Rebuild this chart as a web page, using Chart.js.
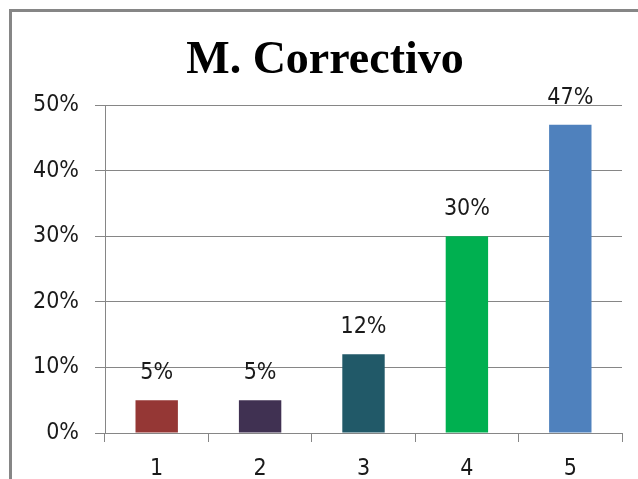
<!DOCTYPE html>
<html>
<head>
<meta charset="utf-8">
<script src="https://cdn.jsdelivr.net/npm/chart.js@4.4.0/dist/chart.umd.min.js"></script>
<style>
  html, body { margin: 0; padding: 0; background: #fff; overflow: hidden; }
  #frame {
    position: absolute; left: 9px; top: 9px;
    width: 700px; height: 520px;
    border-left: 3px solid #868686; border-top: 3px solid #868686;
    background: #fff;
  }
  #chart { display: block; }
</style>
</head>
<body>
<div id="frame"><canvas id="chart" width="626" height="467"></canvas></div>
<script>
// categories and percentages per category
var categories = ['1', '2', '3', '4', '5'];
var percents = [5, 5, 12, 30, 47];
var barColors = ['#953735', '#403152', '#215968', '#00B050', '#4F81BD'];
var yTicks = [0, 10, 20, 30, 40, 50];

var labelFont = { family: "'DejaVu Sans Condensed', 'DejaVu Sans', sans-serif", size: 23 };
var textColor = '#1a1a1a';
var gridGray = '#868686';

// draws the value above every bar
var barValueLabels = {
    id: 'barValueLabels',
    afterDatasetsDraw: function (chart) {
        var ctx = chart.ctx;
        var meta = chart.getDatasetMeta(0);
        ctx.save();
        ctx.font = labelFont.size + 'px ' + labelFont.family;
        ctx.fillStyle = textColor;
        ctx.textAlign = 'center';
        ctx.textBaseline = 'middle';
        meta.data.forEach(function (bar, i) {
            ctx.fillText(Math.round(percents[i]) + '%', bar.x, bar.y - 27);
        });
        ctx.restore();
    }
};

var ctx = document.getElementById('chart').getContext('2d');
var chart = new Chart(ctx, {
    type: 'bar',
    data: {
        labels: categories,
        datasets: [{
            data: percents,
            backgroundColor: barColors,
            borderWidth: 0,
            categoryPercentage: 1,
            barPercentage: 0.41
        }]
    },
    options: {
        responsive: false,
        animation: false,
        // equal side padding keeps the title centred on the whole frame
        layout: { padding: { left: 16, right: 16, top: 0, bottom: 0 } },
        plugins: {
            legend: { display: false },
            tooltip: { enabled: false },
            title: {
                display: true,
                text: 'M. Correctivo',
                color: '#000',
                font: { family: "'Liberation Serif', 'Times New Roman', serif", size: 46, weight: 'bold', lineHeight: 1.2 },
                padding: { top: 22, bottom: 15.8 }
            }
        },
        scales: {
            x: {
                grid: {
                    display: true,
                    drawOnChartArea: false,
                    drawTicks: true,
                    tickLength: 9,
                    color: gridGray,
                    offset: true
                },
                border: { display: true, color: gridGray, width: 1 },
                ticks: { color: textColor, font: labelFont, padding: 13 },
                afterFit: function (scale) { scale.height = 46; }
            },
            y: {
                min: 0,
                max: 50,
                afterBuildTicks: function (scale) {
                    scale.ticks = yTicks.map(function (v) { return { value: v }; });
                },
                grid: {
                    color: gridGray,
                    drawTicks: true,
                    tickLength: 10
                },
                border: { display: true, color: gridGray, width: 1 },
                ticks: {
                    color: textColor,
                    font: labelFont,
                    padding: 16,
                    callback: function (v) { return v + '%'; }
                },
                afterFit: function (scale) { scale.width = 77; }
            }
        }
    },
    plugins: [barValueLabels]
});
</script>
</body>
</html>
